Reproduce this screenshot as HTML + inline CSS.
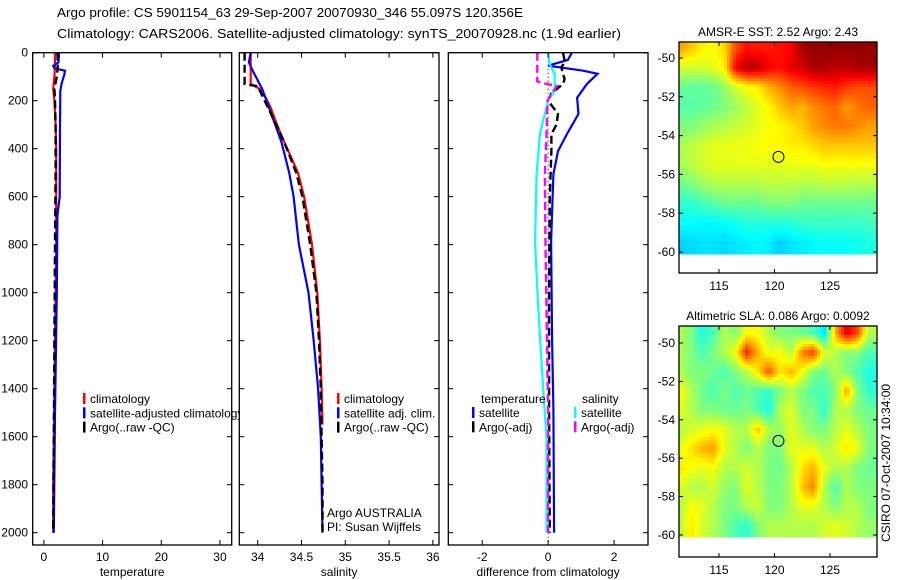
<!DOCTYPE html>
<html><head><meta charset="utf-8"><style>
html,body{margin:0;padding:0;background:#fff;}
svg{display:block;font-family:"Liberation Sans",sans-serif;}
</style></head><body>
<svg id="fig" width="900" height="580" viewBox="0 0 900 580" xmlns="http://www.w3.org/2000/svg">
<text x="57" y="17" font-size="13" textLength="466" lengthAdjust="spacingAndGlyphs">Argo profile: CS 5901154_63 29-Sep-2007 20070930_346 55.097S 120.356E</text>
<text x="57" y="38" font-size="13" textLength="564" lengthAdjust="spacingAndGlyphs">Climatology: CARS2006. Satellite-adjusted climatology: synTS_20070928.nc (1.9d earlier)</text>
<g id="plots"></g>
<text transform="translate(890,542) rotate(-90)" font-size="12">CSIRO 07-Oct-2007 10:34:00</text>
</svg>
<script>
// ---------- data ----------
const depthTicks=[0,200,400,600,800,1000,1200,1400,1600,1800,2000];
const tempTicks=[0,10,20,30];
const salTicks=[34,34.5,35,35.5,36];
const salTickLabels=["34","34.5","35","35.5","36"];
const diffTicks=[-2,0,2];
// temperature panel
const climTempDepth=[0,50,100,150,200,300,400,600,800,1000,1200,1400,1600,1800,2000];
const climTemp=[1.9,1.9,1.8,1.6,1.8,2.0,2.1,2.1,2.1,2.0,1.9,1.8,1.7,1.6,1.6];
const satTempDepth=[0,40,55,65,75,90,130,160,300,600,680,1000,1500,2000];
const satTemp=[2.6,2.5,1.6,1.8,3.6,3.5,3.0,2.8,2.75,2.7,2.3,2.2,1.9,1.7];
const argoTempDepth=[0,50,100,150,200,300,500,800,1200,1600,2000];
const argoTemp=[2.3,2.4,2.2,1.8,1.9,2.0,2.0,1.9,1.8,1.7,1.6];
// salinity panel
const climSalDepth=[0,130,150,180,200,230,300,370,500,600,800,1000,1200,1400,1550];
const climSal=[33.92,33.92,34.02,34.08,34.11,34.15,34.22,34.3,34.46,34.53,34.62,34.68,34.71,34.73,34.74];
const satSalDepth=[0,40,80,150,200,230,370,500,600,800,1000,1200,1400,1600,2000];
const satSal=[33.92,33.9,33.95,34.05,34.1,34.13,34.27,34.36,34.41,34.47,34.58,34.64,34.69,34.72,34.74];
const argoSalDepth=[0,130,140,200,230,370,500,600,800,1000,1200,1400,1600,1800,2000];
const argoSal=[33.85,33.85,34.0,34.08,34.12,34.3,34.44,34.51,34.6,34.67,34.7,34.72,34.73,34.74,34.74];
// difference panel
const dTempSatDepth=[0,30,54,75,88,130,188,255,339,410,506,787,1200,1485,2000];
const dTempSat=[0.72,0.6,0,1.06,1.5,1.18,0.88,0.92,0.57,0.3,0.16,0.09,0.12,0.16,0.18];
const dTempArgoDepth=[0,40,60,88,110,130,170,200,255,300,340,410,600,1000,1500,2000];
const dTempArgo=[0.45,0.51,0.4,0.45,0.5,0.45,0.1,0,0.3,0.25,0.1,0.1,0.05,0.03,0.03,0.05];
const dSalSatDepth=[0,50,88,159,200,339,506,787,1067,1400,1602,2000];
const dSalSat=[0,0.05,0.2,0.2,0,-0.25,-0.35,-0.4,-0.3,-0.15,-0.05,-0.05];
const dSalArgoDepth=[0,120,130,138,160,200,339,506,800,1067,1500,2000];
const dSalArgo=[-0.33,-0.33,-0.05,0.27,0.15,-0.02,-0.05,-0.1,-0.08,-0.05,0,0];
// maps
const mapLonTicks=[115,120,125];
const mapLatTicks=[-50,-52,-54,-56,-58,-60];
const gridLon0=111.5, gridLat0=-49.5; // cell centres, 1 degree
const argoLon=120.356, argoLat=-55.097;
const sstGrid=[
[.72,.68,.64,.62,.66,.8,.86,.85,.85,.86,.88,.96,.98,.98,.98,.98,.98,.98],
[.58,.58,.58,.6,.64,.88,.95,.94,.88,.86,.9,.92,.96,.96,.94,.94,.96,.96],
[.48,.47,.47,.48,.52,.58,.62,.64,.7,.74,.78,.8,.82,.84,.85,.82,.8,.8],
[.46,.46,.47,.48,.5,.53,.56,.6,.63,.68,.72,.7,.74,.76,.78,.72,.76,.78],
[.5,.5,.52,.54,.55,.57,.58,.6,.62,.63,.65,.68,.72,.74,.76,.76,.74,.72],
[.54,.56,.58,.6,.6,.61,.61,.62,.63,.63,.64,.64,.66,.68,.68,.68,.68,.68],
[.54,.56,.58,.6,.6,.6,.6,.6,.6,.6,.61,.61,.61,.62,.62,.62,.62,.62],
[.48,.5,.53,.55,.55,.55,.55,.55,.56,.56,.56,.55,.55,.56,.56,.56,.55,.55],
[.42,.42,.44,.46,.48,.48,.48,.48,.5,.5,.5,.48,.48,.48,.48,.48,.48,.48],
[.38,.38,.37,.37,.38,.39,.41,.41,.41,.41,.41,.43,.43,.43,.43,.43,.43,.44],
[.33,.34,.35,.35,.34,.35,.36,.37,.36,.33,.35,.36,.37,.38,.38,.38,.39,.4]];
const slaGrid=[
[.55,.5,.4,.45,.55,.5,.62,.62,.55,.5,.5,.48,.45,.35,.7,.9,.8,.55],
[.55,.5,.45,.5,.55,.62,.85,.7,.6,.62,.55,.75,.82,.6,.55,.5,.5,.45],
[.55,.5,.5,.48,.45,.5,.55,.65,.8,.65,.7,.62,.5,.48,.55,.5,.45,.4],
[.62,.55,.48,.45,.5,.45,.48,.45,.42,.5,.55,.5,.45,.45,.5,.72,.5,.42],
[.6,.55,.5,.5,.48,.48,.5,.45,.4,.55,.6,.5,.5,.42,.55,.55,.5,.48],
[.55,.58,.6,.62,.6,.55,.55,.68,.55,.52,.6,.55,.5,.5,.55,.6,.55,.5],
[.6,.65,.7,.72,.6,.55,.5,.55,.5,.5,.6,.6,.6,.55,.58,.65,.6,.5],
[.65,.62,.6,.62,.55,.55,.58,.55,.5,.48,.55,.65,.7,.6,.55,.55,.5,.48],
[.6,.55,.55,.58,.52,.5,.6,.55,.5,.5,.55,.68,.75,.55,.45,.55,.5,.5],
[.55,.62,.6,.55,.5,.5,.55,.58,.5,.5,.55,.6,.6,.55,.5,.55,.55,.5],
[.55,.65,.58,.55,.5,.45,.42,.5,.55,.55,.55,.55,.55,.58,.6,.58,.55,.52]];

// ---------- helpers ----------
const NS="http://www.w3.org/2000/svg";
const root=document.getElementById('plots');
function mk(tag,attrs,parent){const e=document.createElementNS(NS,tag);for(const k in attrs)e.setAttribute(k,attrs[k]);(parent||root).appendChild(e);return e;}
function txt(x,y,s,anchor,size,parent){const t=mk('text',{x:x,y:y,'text-anchor':anchor||'start','font-size':size||12},parent);t.textContent=s;return t;}
const TOP=52.7,BOT=545,D0=52.7,DSCALE=0.24;
const yD=d=>D0+d*DSCALE;
function panel(name,left,right,xmin,xmax,ticks,tlabels,xtitle){
  const g=mk('g',{});
  
  
  const xs=v=>left+(v-xmin)/(xmax-xmin)*(right-left);
  const bg=mk('rect',{x:left,y:TOP,width:right-left,height:BOT-TOP,fill:'#fff',stroke:'none'},g);
  
  
  return {g,xs,left,right,xtitle,ticks,tlabels};
}
function finishPanel(p){
  const g=p.g;
  const fr=mk('rect',{x:p.left,y:TOP,width:p.right-p.left,height:BOT-TOP,fill:'none',stroke:'#000','stroke-width':1.3},g);
  
  
  p.ticks.forEach((t,i)=>{const x=p.xs(t);
    mk('line',{x1:x,y1:TOP,x2:x,y2:TOP+5,stroke:'#000'},g);
    mk('line',{x1:x,y1:BOT,x2:x,y2:BOT-5,stroke:'#000'},g);
    const l=txt(x,561,p.tlabels?p.tlabels[i]:String(t),'middle',12,g);
    
    
  });
  depthTicks.forEach(d=>{const y=yD(d);
    mk('line',{x1:p.left,y1:y,x2:p.left+5,y2:y,stroke:'#000'},g);
    mk('line',{x1:p.right,y1:y,x2:p.right-5,y2:y,stroke:'#000'},g);
  });
  const t=txt((p.left+p.right)/2,576,p.xtitle,'middle',12,g);
  
  
}
function series(p,name,depths,vals,color,width,dash){
  let s='';depths.forEach((d,i)=>{s+=(i?'L':'M')+p.xs(vals[i]).toFixed(1)+','+yD(d).toFixed(1);});
  const e=mk('path',{d:s,fill:'none',stroke:color,'stroke-width':width,'stroke-dasharray':dash||'none','stroke-linejoin':'miter'},p.g);
  
  
}
function legend(p,x,y,entries){
  entries.forEach((en,i)=>{const yy=y+i*14.3;
    const b=mk('rect',{x:x,y:yy-10,width:2.5,height:11,fill:en[1]},p.g);
    
    
    const t=txt(x+7,yy,en[0],'start',12,p.g);
    
    
  });
}

// ---------- panel 1: temperature ----------
const p1=panel('temperature-panel',32.7,231.7,-1.9,32,tempTicks,null,'temperature');
series(p1,'temperature-climatology-line',climTempDepth,climTemp,'#f00',2.2);
series(p1,'temperature-satellite-line',satTempDepth,satTemp,'#00f',2.2);
series(p1,'temperature-argo-line',argoTempDepth,argoTemp,'#000',2.4,'8,4');
legend(p1,83,403,[['climatology','#f00'],['satellite-adjusted climatology','#00f'],['Argo(..raw -QC)','#000']]);
finishPanel(p1);
depthTicks.forEach(d=>{const t=txt(28,yD(d)+4,String(d),'end',12);
  
  });

// ---------- panel 2: salinity ----------
const p2=panel('salinity-panel',239.3,439,33.79,36.07,salTicks,salTickLabels,'salinity');
series(p2,'salinity-climatology-line',climSalDepth,climSal,'#f00',2.2);
series(p2,'salinity-satellite-line',satSalDepth,satSal,'#00f',2.2);
series(p2,'salinity-argo-line',argoSalDepth,argoSal,'#000',2.4,'8,4');
legend(p2,337,403,[['climatology','#f00'],['satellite adj. clim.','#00f'],['Argo(..raw -QC)','#000']]);
const a1=txt(327,517,'Argo AUSTRALIA','start',12,p2.g);


const a2=txt(327,531,'PI: Susan Wijffels','start',12,p2.g);


finishPanel(p2);

// ---------- panel 3: difference ----------
const p3=panel('difference-panel',448.3,648,-3.03,3.03,diffTicks,null,'difference from climatology');
const zl=mk('line',{x1:p3.xs(0),y1:TOP,x2:p3.xs(0),y2:BOT,stroke:'#000','stroke-width':1,'stroke-dasharray':'1,3'},p3.g);


series(p3,'temperature-satellite-diff-line',dTempSatDepth,dTempSat,'#00f',2.2);
series(p3,'temperature-argo-diff-line',dTempArgoDepth,dTempArgo,'#000',2.4,'8,4');
series(p3,'salinity-satellite-diff-line',dSalSatDepth,dSalSat,'#0ff',2.2);
series(p3,'salinity-argo-diff-line',dSalArgoDepth,dSalArgo,'#f0f',2.4,'8,4');
const lt=txt(481,403,'temperature','start',12,p3.g);


const ls=txt(582,403,'salinity','start',12,p3.g);


legend(p3,472,417,[['satellite','#00f'],['Argo(-adj)','#000']]);
legend(p3,574,417,[['satellite','#0ff'],['Argo(-adj)','#f0f']]);
finishPanel(p3);

// ---------- maps ----------
function jet(v){v=Math.max(0,Math.min(1,v));
  const r=Math.max(0,Math.min(1,1.5-Math.abs(4*v-3)));
  const g=Math.max(0,Math.min(1,1.5-Math.abs(4*v-2)));
  const b=Math.max(0,Math.min(1,1.5-Math.abs(4*v-1)));
  return 'rgb('+Math.round(r*255)+','+Math.round(g*255)+','+Math.round(b*255)+')';}
function sample(grid,fi,fj){ // bilinear in grid-index space
  const nr=grid.length,nc=grid[0].length;
  fi=Math.max(0,Math.min(nr-1,fi));fj=Math.max(0,Math.min(nc-1,fj));
  const i0=Math.floor(fi),j0=Math.floor(fj),i1=Math.min(nr-1,i0+1),j1=Math.min(nc-1,j0+1);
  const a=fi-i0,b=fj-j0;
  return grid[i0][j0]*(1-a)*(1-b)+grid[i0][j1]*(1-a)*b+grid[i1][j0]*a*(1-b)+grid[i1][j1]*a*b;
}
function map(name,title,grid,top,dataBot,boxBot,latY50,latScale){
  const L=679,R=877,lonA=719,lonPer=11.1; // 115 at 719
  const xs=lon=>lonA+(lon-115)*lonPer;
  const ys=lat=>latY50+(-50-lat)*latScale;
  const g=mk('g',{});
  
  
  const t=txt((L+R)/2,top-6,title,'middle',12,g);
  
  
  const hb=mk('g',{'shape-rendering':'crispEdges'},g);
  
  
  const step=3;
  for(let y=top;y<dataBot;y+=step){
    const h=Math.min(step,dataBot-y);
    const lat=-50-((y+h/2)-latY50)/latScale;
    const fi=gridLat0-lat;
    for(let x=L;x<R;x+=step){
      const w=Math.min(step,R-x);
      const lon=115+((x+w/2)-lonA)/lonPer;
      const fj=lon-gridLon0;
      const c=mk('rect',{x:x,y:y,width:w+0.3,height:h+0.3,fill:jet(sample(grid,fi,fj))},hb);
      
      
    }
  }
  const fr=mk('rect',{x:L,y:top,width:R-L,height:boxBot-top,fill:'none',stroke:'#000','stroke-width':1.3},g);
  
  
  mapLonTicks.forEach(lon=>{const x=xs(lon);
    mk('line',{x1:x,y1:top,x2:x,y2:top+4,stroke:'#000'},g);
    mk('line',{x1:x,y1:boxBot,x2:x,y2:boxBot-4,stroke:'#000'},g);
    const l=txt(x,boxBot+17,String(lon),'middle',12,g);
    
    
  });
  mapLatTicks.forEach(lat=>{const y=ys(lat);
    mk('line',{x1:L,y1:y,x2:L+4,y2:y,stroke:'#000'},g);
    mk('line',{x1:R,y1:y,x2:R-4,y2:y,stroke:'#000'},g);
    const l=txt(675,y+4,String(lat),'end',12,g);
    
    
  });
  const m=mk('circle',{cx:xs(argoLon),cy:ys(argoLat),r:5.5,fill:'none',stroke:'#000','stroke-width':1},g);
  
  
}
map('sst-map','AMSR-E SST: 2.52 Argo: 2.43',sstGrid,42,254,273,58,19.4);
map('sla-map','Altimetric SLA: 0.086 Argo: 0.0092',slaGrid,326,537,557,343,19.2);
</script>
</body></html>
